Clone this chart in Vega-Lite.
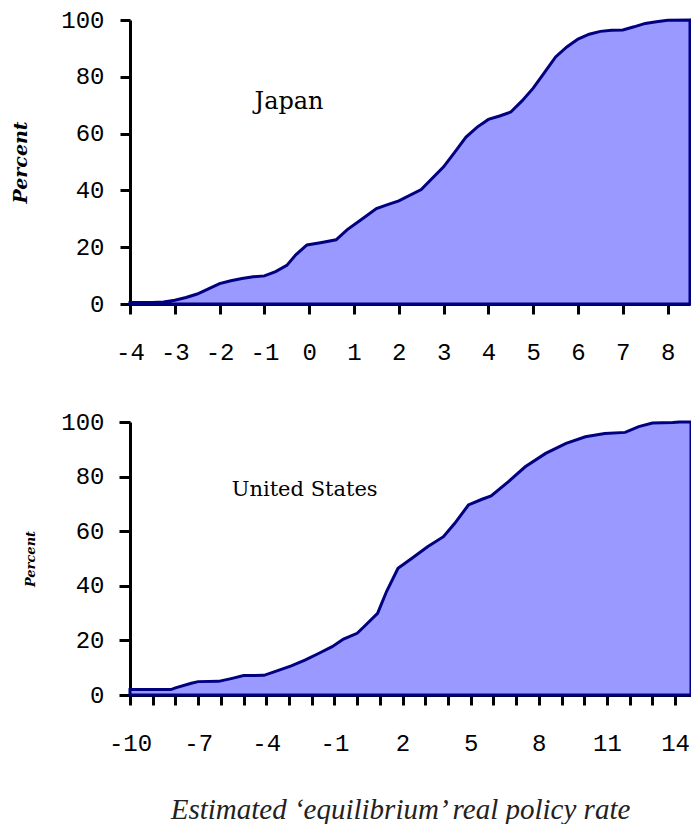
{
  "$schema": "https://vega.github.io/schema/vega-lite/v6.json",
  "background": "white",
  "padding": {"left": 11, "top": 8, "right": 0, "bottom": 0},
  "spacing": 46,
  "datasets": {
    "japan": [
      {"rate": -4.0, "pct": 0.5}, {"rate": -3.5, "pct": 0.5}, {"rate": -3.25, "pct": 0.7},
      {"rate": -3.0, "pct": 1.3}, {"rate": -2.75, "pct": 2.3}, {"rate": -2.5, "pct": 3.5},
      {"rate": -2.25, "pct": 5.3}, {"rate": -2.0, "pct": 7.2}, {"rate": -1.75, "pct": 8.2},
      {"rate": -1.5, "pct": 9.0}, {"rate": -1.25, "pct": 9.6}, {"rate": -1.0, "pct": 9.9},
      {"rate": -0.75, "pct": 11.4}, {"rate": -0.5, "pct": 13.6}, {"rate": -0.3, "pct": 17.3},
      {"rate": -0.05, "pct": 20.8}, {"rate": 0.25, "pct": 21.6}, {"rate": 0.6, "pct": 22.6},
      {"rate": 0.85, "pct": 26.2}, {"rate": 1.15, "pct": 29.6}, {"rate": 1.5, "pct": 33.6},
      {"rate": 1.75, "pct": 35.0}, {"rate": 2.0, "pct": 36.3}, {"rate": 2.5, "pct": 40.3},
      {"rate": 3.0, "pct": 48.3}, {"rate": 3.25, "pct": 53.5}, {"rate": 3.5, "pct": 58.8},
      {"rate": 3.75, "pct": 62.3}, {"rate": 4.0, "pct": 65.0}, {"rate": 4.25, "pct": 66.2},
      {"rate": 4.5, "pct": 67.6}, {"rate": 4.75, "pct": 71.5}, {"rate": 5.0, "pct": 76.0},
      {"rate": 5.25, "pct": 81.5}, {"rate": 5.5, "pct": 87.0}, {"rate": 5.75, "pct": 90.5},
      {"rate": 6.0, "pct": 93.3}, {"rate": 6.25, "pct": 95.0}, {"rate": 6.5, "pct": 96.0},
      {"rate": 6.75, "pct": 96.4}, {"rate": 7.0, "pct": 96.5}, {"rate": 7.25, "pct": 97.6},
      {"rate": 7.5, "pct": 98.8}, {"rate": 7.75, "pct": 99.4}, {"rate": 8.0, "pct": 99.9},
      {"rate": 8.5, "pct": 100}
    ],
    "us": [
      {"rate": -10.0, "pct": 2.0}, {"rate": -8.2, "pct": 2.0}, {"rate": -8.0, "pct": 2.6},
      {"rate": -7.3, "pct": 4.3}, {"rate": -7.0, "pct": 4.9}, {"rate": -6.1, "pct": 5.0},
      {"rate": -5.5, "pct": 6.1}, {"rate": -5.0, "pct": 7.1}, {"rate": -4.1, "pct": 7.2},
      {"rate": -3.5, "pct": 8.9}, {"rate": -2.9, "pct": 10.7}, {"rate": -2.3, "pct": 12.8},
      {"rate": -1.7, "pct": 15.2}, {"rate": -1.1, "pct": 17.7}, {"rate": -0.6, "pct": 20.5},
      {"rate": 0.0, "pct": 22.6}, {"rate": 0.3, "pct": 25.0}, {"rate": 0.9, "pct": 29.9},
      {"rate": 1.3, "pct": 38.0}, {"rate": 1.8, "pct": 46.4}, {"rate": 2.4, "pct": 50.0},
      {"rate": 3.1, "pct": 54.3}, {"rate": 3.8, "pct": 58.0}, {"rate": 4.3, "pct": 62.9},
      {"rate": 4.9, "pct": 69.6}, {"rate": 5.5, "pct": 71.7}, {"rate": 5.9, "pct": 72.9},
      {"rate": 6.65, "pct": 78.1}, {"rate": 7.4, "pct": 83.6}, {"rate": 8.3, "pct": 88.5},
      {"rate": 9.2, "pct": 92.2}, {"rate": 10.05, "pct": 94.6}, {"rate": 10.9, "pct": 95.8},
      {"rate": 11.8, "pct": 96.2}, {"rate": 12.4, "pct": 98.3}, {"rate": 13.0, "pct": 99.6},
      {"rate": 13.9, "pct": 99.8}, {"rate": 14.2, "pct": 100}, {"rate": 14.7, "pct": 100}
    ]
  },
  "vconcat": [
    {
      "width": 560,
      "height": 284,
      "layer": [
        {
          "data": {"name": "japan"},
          "mark": {"type": "area", "fill": "#9999FF", "stroke": "#000080", "strokeWidth": 3, "interpolate": "linear"},
          "encoding": {
            "x": {
              "field": "rate", "type": "quantitative",
              "scale": {"domain": [-4, 8.5], "nice": false, "zero": false},
              "axis": {
                "title": null,
                "values": [-4, -3.5, -3, -2.5, -2, -1.5, -1, -0.5, 0, 0.5, 1, 1.5, 2, 2.5, 3, 3.5, 4, 4.5, 5, 5.5, 6, 6.5, 7, 7.5, 8, 8.5],
                "tickCount": 100,
                "format": "d",
                "labelExpr": "datum.value % 1 == 0 ? replace(datum.label, '−', '-') : ''",
                "tickSize": 10, "labelPadding": 26, "labelFlush": false, "labelOverlap": false
              }
            },
            "y": {
              "field": "pct", "type": "quantitative",
              "scale": {"domain": [0, 100], "nice": false},
              "axis": {
                "title": "Percent",
                "values": [0, 20, 40, 60, 80, 100],
                "tickSize": 10, "labelPadding": 16,
                "titleFont": "DejaVu Serif", "titleFontStyle": "italic", "titleFontWeight": "bold",
                "titleFontSize": 19, "titlePadding": 30
              }
            }
          }
        },
        {
          "data": {"values": [{"rate": -0.45, "pct": 71, "label": "Japan"}]},
          "mark": {"type": "text", "font": "DejaVu Serif", "fontSize": 24, "color": "black", "baseline": "middle", "align": "center"},
          "encoding": {
            "x": {"field": "rate", "type": "quantitative"},
            "y": {"field": "pct", "type": "quantitative"},
            "text": {"field": "label"}
          }
        }
      ]
    },
    {
      "width": 561,
      "height": 273,
      "layer": [
        {
          "data": {"name": "us"},
          "mark": {"type": "area", "fill": "#9999FF", "stroke": "#000080", "strokeWidth": 3, "interpolate": "linear"},
          "encoding": {
            "x": {
              "field": "rate", "type": "quantitative",
              "scale": {"domain": [-10, 14.7], "nice": false, "zero": false},
              "axis": {
                "title": "Estimated ‘equilibrium’ real policy rate",
                "values": [-10, -9, -8, -7, -6, -5, -4, -3, -2, -1, 0, 1, 2, 3, 4, 5, 6, 7, 8, 9, 10, 11, 12, 13, 14],
                "tickCount": 100,
                "format": "d",
                "labelExpr": "indexof([-10, -7, -4, -1, 2, 5, 8, 11, 14], datum.value) >= 0 ? replace(datum.label, '−', '-') : ''",
                "tickSize": 10, "labelPadding": 26, "labelFlush": false, "labelOverlap": false, "labelBound": false,
                "titleFont": "Liberation Serif", "titleFontStyle": "italic", "titleFontWeight": "normal",
                "titleFontSize": 29, "titleColor": "#222222", "titlePadding": 40, "titleX": 270
              }
            },
            "y": {
              "field": "pct", "type": "quantitative",
              "scale": {"domain": [0, 100], "nice": false},
              "axis": {
                "title": "Percent",
                "values": [0, 20, 40, 60, 80, 100],
                "tickSize": 11, "labelPadding": 15,
                "titleFont": "DejaVu Serif", "titleFontStyle": "italic", "titleFontWeight": "bold",
                "titleFontSize": 13, "titlePadding": 23
              }
            }
          }
        },
        {
          "data": {"values": [{"rate": -2.31, "pct": 75, "label": "United States"}]},
          "mark": {"type": "text", "font": "DejaVu Serif", "fontSize": 21, "color": "black", "baseline": "middle", "align": "center"},
          "encoding": {
            "x": {"field": "rate", "type": "quantitative"},
            "y": {"field": "pct", "type": "quantitative"},
            "text": {"field": "label"}
          }
        }
      ]
    }
  ],
  "config": {
    "view": {"stroke": null},
    "axis": {
      "grid": false,
      "domainColor": "black", "domainWidth": 3,
      "tickColor": "black", "tickWidth": 3,
      "labelFont": "Liberation Mono", "labelFontSize": 24, "labelColor": "black",
      "titleColor": "black", "labelOverlap": false
    }
  }
}
